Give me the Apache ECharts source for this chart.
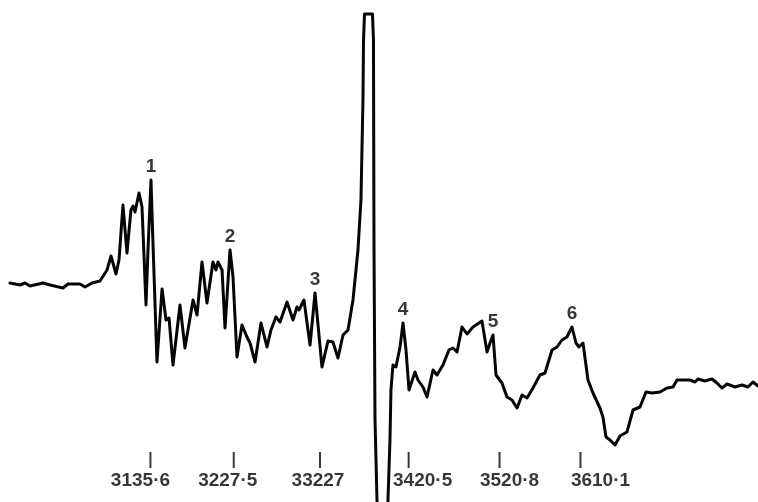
<!DOCTYPE html>
<html>
<head>
<meta charset="utf-8">
<title>Spectrum</title>
<script src="https://cdn.jsdelivr.net/npm/echarts@6/dist/echarts.min.js"></script>
<style>
  html, body { margin: 0; padding: 0; background: #ffffff; overflow: hidden; }
  /* the frame shows the upper 502 px; the off-scale dip runs below it */
  #frame { position: relative; width: 758px; height: 502px; overflow: hidden; }
  #chart { position: absolute; left: 0; top: 0; width: 758px; height: 602px; }
</style>
</head>
<body>
<div id="frame"><div id="chart"></div></div>
<script>
// Recorder trace: magnetic field (G) and signal amplitude (arbitrary units)
const field = [
  2980.6, 2991.7, 2997.2, 3002.7, 3017.0, 3024.8, 3039.1, 3044.6, 3057.9, 3063.4,
  3071.1, 3079.9, 3087.7, 3092.1, 3097.6, 3100.9, 3105.3, 3109.7, 3114.1, 3116.4,
  3118.6, 3123.0, 3126.3, 3130.7, 3132.9, 3136.2, 3138.4, 3142.8, 3148.4, 3152.8,
  3156.1, 3160.5, 3168.2, 3173.7, 3182.6, 3187.0, 3192.5, 3198.0, 3204.6, 3207.9,
  3210.1, 3214.6, 3217.9, 3223.4, 3226.7, 3231.1, 3236.6, 3242.1, 3245.5, 3251.0,
  3257.6, 3264.2, 3268.6, 3274.1, 3278.6, 3286.3, 3292.9, 3297.3, 3299.5, 3305.0,
  3311.7, 3317.2, 3324.9, 3331.5, 3337.0, 3342.5, 3348.1, 3353.6, 3359.1, 3364.6,
  3367.9, 3370.1, 3370.7, 3371.8, 3380.6, 3381.7, 3382.3, 3383.4, 3385.6, 3388.9,
  3392.2, 3395.5, 3397.7, 3399.9, 3401.0, 3403.2, 3406.5, 3411.0, 3414.3, 3417.6,
  3420.9, 3427.5, 3430.8, 3436.3, 3440.8, 3447.4, 3451.8, 3458.4, 3465.0, 3469.4,
  3473.9, 3479.4, 3484.9, 3491.5, 3501.4, 3507.0, 3510.3, 3513.6, 3516.9, 3523.5,
  3529.0, 3534.5, 3540.1, 3545.6, 3551.1, 3557.7, 3565.4, 3571.0, 3578.7, 3584.2,
  3589.7, 3595.2, 3600.7, 3605.2, 3608.5, 3612.9, 3618.4, 3623.9, 3631.6, 3634.9,
  3638.3, 3642.7, 3648.2, 3653.7, 3661.4, 3668.1, 3675.8, 3682.4, 3689.0, 3697.8,
  3705.6, 3712.2, 3716.6, 3730.9, 3736.5, 3739.8, 3747.5, 3755.2, 3760.7, 3766.2,
  3771.8, 3780.6, 3788.3, 3794.9, 3800.5, 3806.0
];
const signal = [
     2,    0,    2,   -1,    2,    0,   -3,    1,    1,   -2,
     2,    4,   15,   29,   11,   25,   80,   32,   75,   79,
    73,   92,   78,  -20,   35,  105,   42,  -77,   -4,  -35,
   -33,  -80,  -20,  -63,  -15,  -30,   23,  -18,   23,   15,
    23,   15,  -43,   35,    8,  -72,  -40,  -52,  -58,  -77,
   -38,  -62,  -45,  -32,  -37,  -17,  -35,  -22,  -25,  -15,
   -60,   -8,  -82,  -56,  -57,  -73,  -50,  -45,  -15,   35,
    85,  185,  245,  271,  271,  245,   35, -135, -215, -275,
  -305, -275, -215, -155, -105,  -80,  -82,  -62,  -38,  -65,
  -105,  -87,  -95, -102, -112,  -85,  -90,  -80,  -65,  -63,
   -67,  -42,  -49,  -42,  -36,  -67,  -58,  -50,  -90,  -98,
  -112, -115, -123, -110, -113, -103,  -90,  -88,  -65,  -62,
   -55,  -52,  -42,  -58,  -62,  -58,  -95, -108, -123, -132,
  -152, -155, -160, -151, -147, -125, -122, -107, -108, -107,
  -103, -102,  -95,  -95,  -97,  -94,  -96,  -94,  -98, -103,
   -99, -102, -100, -102,  -97, -101
];

// Numbered lines: index of each peak in the trace
const peakNames = ['1', '2', '3', '4', '5', '6'];
const peakIndex = [25, 43, 61, 88, 107, 122];

// Field markers and the values written under them
const markerField = [3135.6, 3227.5, 3322.7, 3420.5, 3520.8, 3610.1];
const markerText = ['3135·6', '3227·5', '33227', '3420·5', '3520·8', '3610·1'];
const markerLevel = -175;

// Horizontal nudge of each marker caption (px)
const markerTextShift = [-10, -6, -2, 14, 10, 20];

const trace = field.map((b, i) => [b, signal[i]]);
const peaks = peakIndex.map((k, i) => ({ value: [field[k], signal[k]], name: peakNames[i] }));
const markers = markerField.map((b, i) => ({
  value: [b, markerLevel],
  label: { offset: [markerTextShift[i], 0] }
}));

const ink = '#050505';

const chart = echarts.init(document.getElementById('chart'), null, { renderer: 'canvas' });
chart.setOption({
  backgroundColor: '#ffffff',
  animation: false,
  grid: { left: 0, right: 0, top: 0, bottom: 0 },
  xAxis: {
    type: 'value', min: 2969.6, max: 3806.0,
    show: false, splitLine: { show: false }
  },
  yAxis: {
    type: 'value', min: -317, max: 285,
    show: false, splitLine: { show: false }
  },
  series: [
    {
      name: 'trace',
      type: 'line',
      data: trace,
      showSymbol: false,
      smooth: false,
      lineStyle: { color: ink, width: 3, join: 'round', cap: 'round' },
      z: 2
    },
    {
      name: 'lines',
      type: 'scatter',
      data: peaks,
      symbolSize: 0,
      label: {
        show: true,
        position: 'top',
        distance: 4,
        formatter: p => p.name,
        fontFamily: 'Liberation Sans',
        fontWeight: 'bold',
        fontSize: 19,
        color: ink
      },
      z: 3
    },
    {
      name: 'markers',
      type: 'scatter',
      data: markers,
      symbol: 'rect',
      symbolSize: [2, 16],
      itemStyle: { color: ink },
      label: {
        show: true,
        position: 'bottom',
        distance: 3,
        formatter: p => markerText[p.dataIndex],
        fontFamily: 'Liberation Sans',
        fontWeight: 'bold',
        fontSize: 19,
        color: ink
      },
      z: 3
    }
  ]
});
</script>
</body>
</html>
